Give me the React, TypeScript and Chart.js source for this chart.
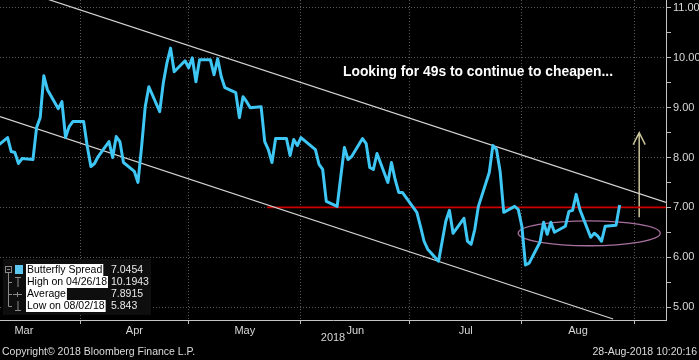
import React, { useEffect, useRef } from "react";
import { Chart, registerables } from "chart.js";

Chart.register(...registerables);

// ---------------- data ----------------
const seriesName = "Butterfly Spread";
const firstTradeDate = "2018-03-09";
const lastTradeDate = "2018-08-28";

const spreadValues = [
  8.22, 8.4, 8.12, 8.1, 7.88, 7.98, 7.96, 8.6, 8.8, 9.64,
  9.36, 8.98, 9.12, 8.4, 8.62, 8.72, 8.72, 8.22, 7.82, 7.88,
  8.02, 8.32, 8.0, 8.42, 8.32, 7.9, 7.72, 7.5, 8.22, 9.02,
  9.42, 8.92, 9.5, 9.9, 10.1943, 9.72, 9.94, 9.8, 10.0, 9.52,
  9.96, 9.96, 9.66, 9.98, 9.62, 9.4, 9.3, 8.8, 9.22, 9.12,
  9.0, 9.02, 8.32, 8.16, 7.9, 8.38, 8.38, 8.04, 8.36, 8.24,
  8.4, 8.22, 8.16, 7.86, 7.76, 7.12, 7.02, 7.62, 8.2, 7.96,
  8.02, 8.38, 8.28, 7.8, 7.76, 8.08, 7.5, 7.9, 7.56, 7.3,
  7.3, 7.0, 6.9, 6.62, 6.32, 6.16, 5.92, 6.32, 6.72, 6.94,
  6.48, 6.78, 6.32, 6.26, 6.56, 7.02, 7.7, 8.24, 8.16, 7.72,
  6.9, 7.02, 6.96, 6.62, 5.843, 5.88, 6.3, 6.7, 6.46, 6.7,
  6.5, 6.62, 6.92, 6.94, 7.26, 6.96, 6.4, 6.48, 6.42, 6.32,
  6.62, 6.64, 7.0454,
];

const monthLabels = ["Mar", "Apr", "May", "Jun", "Jul", "Aug"];
const monthStartDates = ["2018-03-01", "2018-04-01", "2018-05-01", "2018-06-01", "2018-07-01", "2018-08-01", "2018-09-01"];
const yearLabel = "2018";

// x domain in days since 1 Mar 2018
const xDomain = [8.9, 192.8];
const yDomain = [4.74, 11.16];
const yTickValues = [5, 5.5, 6, 6.5, 7, 7.5, 8, 8.5, 9, 9.5, 10, 10.5, 11];

// trend channel (days since 1 Mar, value)
const upperChannelDays = [15, 192.8];
const upperChannelValues = [11.344, 7.1];
const lowerChannelDays = [8.9, 178.2];
const lowerChannelValues = [8.82, 4.76];
const redLineDays = [82.6, 192.8];
const redLineValues = [7.0, 7.0];

// annotations (data units)
const ellipseCenter = [171.6, 6.48];
const ellipseRadii = [19.6, 0.25];
const arrowDay = 185.4;
const arrowValues = [6.8, 8.5];
const annotationText = "Looking for 49s to continue to cheapen...";

const legendLabels = ["Butterfly Spread", "High on 04/26/18", "Average", "Low on 08/02/18"];
const legendValues = ["7.0454", "10.1943", "7.8915", "5.843"];

const copyrightText = "Copyright\u00a9 2018 Bloomberg Finance L.P.";
const timestampText = "28-Aug-2018 10:20:16";

// ---------------- helpers ----------------
const BASE = Date.UTC(2018, 2, 1);
function dayNum(s: string): number {
  const [y, m, d] = s.split("-").map(Number);
  return (Date.UTC(y, m - 1, d) - BASE) / 864e5;
}
function weekdays(from: string, to: string): number[] {
  const out: number[] = [];
  const a = dayNum(from);
  const b = dayNum(to);
  for (let d = a; d <= b; d++) {
    const dow = new Date(BASE + d * 864e5).getUTCDay();
    if (dow !== 0 && dow !== 6) out.push(d);
  }
  return out;
}

const tradeDays = weekdays(firstTradeDate, lastTradeDate);
const monthStarts = monthStartDates.map(dayNum);
const monthMids = monthLabels.map((_, i) => (monthStarts[i] + monthStarts[i + 1]) / 2);

const FONT = "'Liberation Sans', Arial, sans-serif";

const overlayPlugin = {
  id: "overlay",
  beforeDraw(chart: any) {
    const ctx = chart.ctx;
    ctx.save();
    ctx.fillStyle = "#000";
    ctx.fillRect(0, 0, chart.width, chart.height);
    ctx.restore();
  },
  beforeDatasetsDraw(chart: any) {
    const ctx = chart.ctx;
    const xs = chart.scales.x;
    const ys = chart.scales.y;
    const cx = xs.getPixelForValue(ellipseCenter[0]);
    const cy = ys.getPixelForValue(ellipseCenter[1]);
    const rx = Math.abs(xs.getPixelForValue(ellipseCenter[0] + ellipseRadii[0]) - cx);
    const ry = Math.abs(ys.getPixelForValue(ellipseCenter[1] + ellipseRadii[1]) - cy);
    ctx.save();
    ctx.strokeStyle = "#a8709f";
    ctx.lineWidth = 1.3;
    ctx.beginPath();
    ctx.ellipse(cx, cy, rx, ry, 0, 0, Math.PI * 2);
    ctx.stroke();
    // arrow
    const ax = xs.getPixelForValue(arrowDay);
    const ay0 = ys.getPixelForValue(arrowValues[0]);
    const ay1 = ys.getPixelForValue(arrowValues[1]);
    ctx.strokeStyle = "#c9c39a";
    ctx.lineWidth = 1.5;
    ctx.beginPath();
    ctx.moveTo(ax, ay0);
    ctx.lineTo(ax, ay1);
    ctx.moveTo(ax - 6, ay1 + 12);
    ctx.lineTo(ax, ay1);
    ctx.lineTo(ax + 6, ay1 + 12);
    ctx.stroke();
    ctx.restore();
  },
  afterDraw(chart: any) {
    const ctx = chart.ctx;
    ctx.save();
    // annotation text
    ctx.fillStyle = "#ffffff";
    ctx.font = `bold 14px ${FONT}`;
    ctx.textBaseline = "middle";
    ctx.textAlign = "left";
    ctx.fillText(annotationText, 343, 72, 270);

    // legend box
    ctx.fillStyle = "#0e0e0e";
    ctx.fillRect(3, 259, 148, 56);
    const rowY = [270, 282, 294, 306];
    ctx.font = `10.5px ${FONT}`;
    legendLabels.forEach((lab, i) => {
      const y = rowY[i];
      const w = ctx.measureText(lab).width;
      ctx.fillStyle = "#ffffff";
      ctx.fillRect(26, y - 6, w + 2, 12);
      ctx.fillStyle = "#000000";
      ctx.fillText(lab, 27, y + 0.5);
      ctx.fillStyle = "#e8e8e8";
      ctx.fillText(legendValues[i], 111, y + 0.5);
    });
    // tree icons
    ctx.strokeStyle = "#8a8a8a";
    ctx.lineWidth = 1;
    ctx.beginPath();
    ctx.moveTo(8.5, 272);
    ctx.lineTo(8.5, 306.5);
    [282, 294, 306].forEach((y) => {
      ctx.moveTo(8.5, y + 0.5);
      ctx.lineTo(12, y + 0.5);
    });
    ctx.stroke();
    ctx.strokeRect(5.5, 266.5, 6, 6);
    ctx.beginPath();
    ctx.moveTo(7, 269.5);
    ctx.lineTo(10, 269.5);
    ctx.moveTo(15, 277.5);
    ctx.lineTo(21, 277.5);
    ctx.moveTo(18, 277.5);
    ctx.lineTo(18, 287);
    ctx.moveTo(13, 294.5);
    ctx.lineTo(22, 294.5);
    ctx.moveTo(17.5, 292);
    ctx.lineTo(17.5, 297);
    ctx.moveTo(18, 301);
    ctx.lineTo(18, 310.5);
    ctx.moveTo(15, 310.5);
    ctx.lineTo(21, 310.5);
    ctx.stroke();
    ctx.fillStyle = "#5cc8f0";
    ctx.fillRect(15, 265, 8, 9);

    // footer
    ctx.font = `10.5px ${FONT}`;
    ctx.fillStyle = "#dcdcdc";
    ctx.textAlign = "left";
    ctx.fillText(copyrightText, 2, 352);
    ctx.textAlign = "right";
    ctx.fillText(timestampText, 697, 352);
    ctx.restore();
  },
};

export default function App() {
  const ref = useRef<HTMLCanvasElement>(null);
  useEffect(() => {
    const canvas = ref.current;
    if (!canvas) return;
    const mainData = tradeDays.map((d, i) => ({ x: d, y: spreadValues[i] }));
    const pairs = (xs: number[], ys: number[]) => xs.map((x, i) => ({ x, y: ys[i] }));
    const chart = new Chart(canvas, {
      type: "line",
      data: {
        datasets: [
          {
            label: seriesName,
            data: mainData,
            borderColor: "#3ec6f4",
            borderWidth: 3,
            pointRadius: 0,
            tension: 0,
            borderJoinStyle: "round",
          },
          {
            label: "upper",
            data: pairs(upperChannelDays, upperChannelValues),
            borderColor: "#d4d4d4",
            borderWidth: 1.2,
            pointRadius: 0,
          },
          {
            label: "lower",
            data: pairs(lowerChannelDays, lowerChannelValues),
            borderColor: "#d4d4d4",
            borderWidth: 1.2,
            pointRadius: 0,
          },
          {
            label: "level",
            data: pairs(redLineDays, redLineValues),
            borderColor: "#cc0000",
            borderWidth: 1.6,
            pointRadius: 0,
          },
        ],
      } as any,
      options: {
        responsive: false,
        animation: false,
        devicePixelRatio: 1,
        layout: { padding: 0 },
        font: { family: FONT },
        plugins: { legend: { display: false }, tooltip: { enabled: false } },
        scales: {
          x: {
            type: "linear",
            min: xDomain[0],
            max: xDomain[1],
            afterBuildTicks: (scale: any) => {
              scale.ticks = [...monthStarts, ...monthMids]
                .filter((v) => v >= xDomain[0] && v <= xDomain[1])
                .sort((a, b) => a - b)
                .map((v) => ({ value: v }));
            },
            afterFit: (scale: any) => {
              scale.height = 40;
              scale.paddingLeft = 0;
              scale.paddingRight = 0;
            },
            ticks: {
              autoSkip: false,
              maxRotation: 0,
              minRotation: 0,
              color: "#d8d8d8",
              font: { size: 11, family: FONT },
              padding: 0,
              callback: (value: any) => {
                const i = monthMids.indexOf(Number(value));
                return i >= 0 ? monthLabels[i] : "";
              },
            },
            grid: {
              color: (ctx: any) => (monthStarts.includes(ctx.tick?.value) ? "#5a5a5a" : "transparent"),
              tickColor: (ctx: any) => (monthStarts.includes(ctx.tick?.value) ? "#bbbbbb" : "transparent"),
              tickLength: 4,
              lineWidth: 1,
            },
            border: { display: true, color: "#c4c4c4", width: 1, dash: [1, 2] },
            title: {
              display: true,
              text: yearLabel,
              color: "#d8d8d8",
              font: { size: 11, family: FONT },
              padding: { top: 0, bottom: 15 },
            },
          },
          y: {
            type: "linear",
            position: "right",
            min: yDomain[0],
            max: yDomain[1],
            afterBuildTicks: (scale: any) => {
              scale.ticks = yTickValues.map((v) => ({ value: v }));
            },
            afterFit: (scale: any) => {
              scale.width = 33;
              scale.paddingTop = 0;
              scale.paddingBottom = 0;
            },
            ticks: {
              color: "#d8d8d8",
              font: { size: 11, family: FONT },
              padding: 2,
              callback: (value: any) => (Number(value) % 1 === 0 ? Number(value).toFixed(2) : ""),
            },
            grid: {
              color: (ctx: any) => (ctx.tick && ctx.tick.value % 1 === 0 ? "#5a5a5a" : "transparent"),
              tickColor: "#bbbbbb",
              tickLength: 5,
              lineWidth: 1,
            },
            border: { display: true, color: "#c4c4c4", width: 1, dash: [1, 2] },
          },
        },
      } as any,
      plugins: [overlayPlugin],
    });
    return () => chart.destroy();
  }, []);
  return (
    <div style={{ position: "fixed", left: 0, top: 0, width: 699, height: 360, background: "#000" }}>
      <canvas ref={ref} width={699} height={360} style={{ display: "block" }} />
    </div>
  );
}
